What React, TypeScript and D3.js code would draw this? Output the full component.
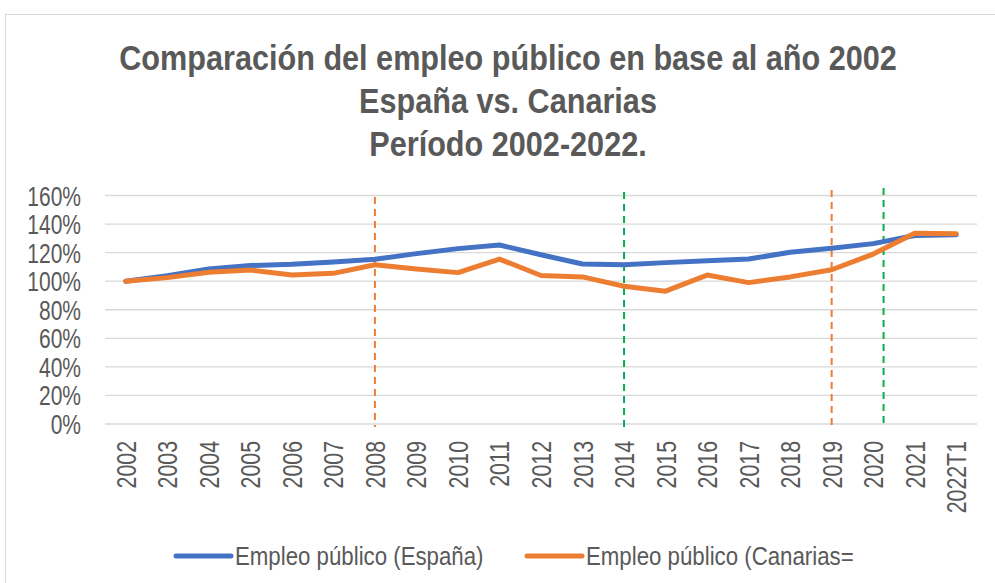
import React, { useEffect, useRef } from "react";
import * as d3 from "d3";

const years = ["2002", "2003", "2004", "2005", "2006", "2007", "2008", "2009", "2010", "2011", "2012",
  "2013", "2014", "2015", "2016", "2017", "2018", "2019", "2020", "2021", "2022T1"];
const espana = [100, 103.8, 108.5, 111, 111.8, 113.5, 115.3, 119.3, 122.8, 125.3, 118.5,
  112, 111.5, 113, 114.3, 115.5, 120.3, 123, 126.3, 132, 132.5];
const canarias = [100, 102.5, 106.3, 107.8, 104.3, 105.5, 111.5, 108.5, 106, 115.5, 104,
  103, 96.5, 93, 104.3, 99, 103, 108, 119, 133.5, 133.3];
const yTicks = [0, 20, 40, 60, 80, 100, 120, 140, 160];
// marker lines: position in category index, colour
const markers = [
  { at: 6, color: "#ED7D31", top: 197 },
  { at: 12, color: "#00B050", top: 192 },
  { at: 17, color: "#ED7D31", top: 190 },
  { at: 18.25, color: "#00B050", top: 188 },
];
const titleLines = ["Comparación del empleo público en base al año 2002", "España vs. Canarias", "Período 2002-2022."];
const seriesNames = ["Empleo público (España)", "Empleo público (Canarias="];
const colors = ["#4472C4", "#ED7D31"];

const FONT = "'Liberation Sans', Arial, sans-serif";

export default function App() {
  const ref = useRef<SVGSVGElement>(null);

  useEffect(() => {
    const svg = d3.select(ref.current);
    svg.selectAll("*").remove();
    const left = 105, right = 977, top = 195.5, bottom = 424;

    svg.append("rect").attr("x", 5.5).attr("y", 14.5).attr("width", 1000).attr("height", 600)
      .attr("fill", "#fff").attr("stroke", "#d9d9d9");

    // title, condensed
    titleLines.forEach((l, i) => {
      svg.append("text").attr("transform", `translate(508,${70 + i * 43}) scale(0.875,1)`)
        .attr("text-anchor", "middle").attr("font-family", FONT)
        .attr("font-weight", "bold").attr("font-size", 35).attr("fill", "#595959").text(l);
    });

    const x = d3.scaleBand().domain(years).range([left, right]);
    const y = d3.scaleLinear().domain([0, 160]).range([bottom, top]);
    const cx = (i: number) => left + x.bandwidth() * (i + 0.5);

    svg.append("g").selectAll("line").data(yTicks).enter().append("line")
      .attr("x1", left).attr("x2", right)
      .attr("y1", d => y(d)).attr("y2", d => y(d))
      .attr("stroke", "#d9d9d9").attr("stroke-width", 1.3);

    svg.append("g").selectAll("text").data(yTicks).enter().append("text")
      .attr("transform", d => `translate(81,${y(d) + 10}) scale(0.75,1)`).attr("text-anchor", "end")
      .attr("font-family", FONT).attr("font-size", 28).attr("fill", "#595959")
      .text(d => d + "%");

    svg.append("g").selectAll("text").data(years).enter().append("text")
      .attr("transform", d => `translate(${(x(d) as number) + x.bandwidth() / 2 + 10},441) rotate(-90) scale(0.79,1)`)
      .attr("text-anchor", "end")
      .attr("font-family", FONT).attr("font-size", 27).attr("fill", "#595959")
      .text(d => d);

    svg.append("g").selectAll("line").data(markers).enter().append("line")
      .attr("x1", d => cx(d.at)).attr("x2", d => cx(d.at))
      .attr("y1", d => d.top).attr("y2", bottom + 3)
      .attr("stroke", d => d.color).attr("stroke-width", 2).attr("stroke-dasharray", "7,5");

    const line = d3.line<number>().x((_, i) => cx(i)).y(d => y(d));
    [espana, canarias].forEach((s, k) => {
      svg.append("path").attr("d", line(s) as string).attr("fill", "none")
        .attr("stroke", colors[k]).attr("stroke-width", 5)
        .attr("stroke-linecap", "round").attr("stroke-linejoin", "round");
    });

    const legX = [176, 527];
    seriesNames.forEach((n, k) => {
      svg.append("line").attr("x1", legX[k]).attr("x2", legX[k] + 55).attr("y1", 556).attr("y2", 556)
        .attr("stroke", colors[k]).attr("stroke-width", 5).attr("stroke-linecap", "round");
      svg.append("text").attr("transform", `translate(${legX[k] + 59},565) scale(0.89,1)`)
        .attr("font-family", FONT).attr("font-size", 25).attr("fill", "#595959").text(n);
    });
  }, []);

  return (
    <div style={{ position: "absolute", left: 0, top: 0 }}>
      <svg ref={ref} width={995} height={583} />
    </div>
  );
}
